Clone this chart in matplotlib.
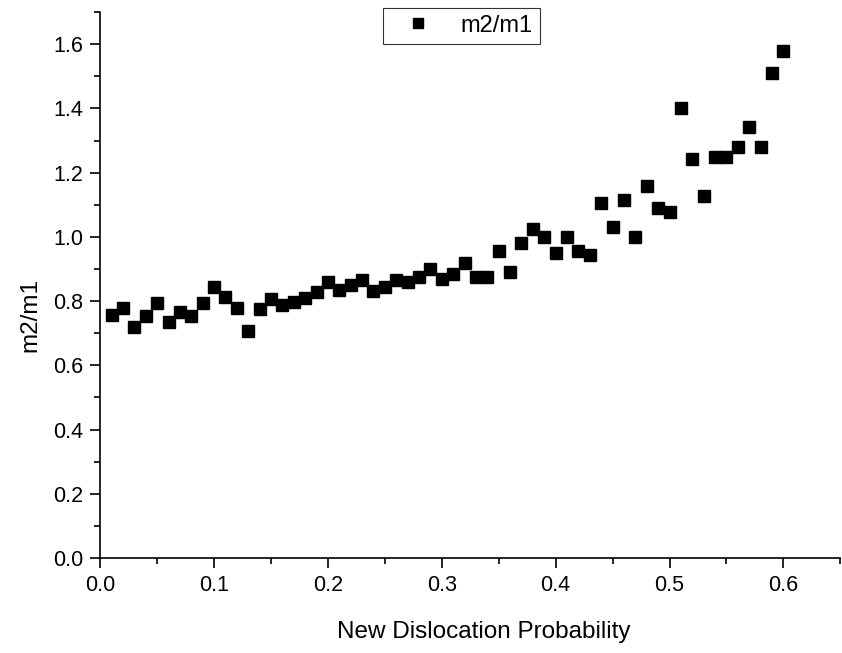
import matplotlib
matplotlib.use("Agg")
import matplotlib.pyplot as plt
from matplotlib.ticker import MultipleLocator

plt.rcParams['font.family'] = ['Liberation Sans', 'DejaVu Sans']

# new dislocation probability, 0.01 .. 0.60
prob = [round(0.01 * i, 2) for i in range(1, 61)]
ratio = [0.758, 0.777, 0.720, 0.755, 0.795, 0.736, 0.767, 0.755, 0.795, 0.845,
         0.814, 0.777, 0.708, 0.774, 0.808, 0.789, 0.798, 0.811, 0.827, 0.861,
         0.833, 0.850, 0.865, 0.830, 0.845, 0.865, 0.860, 0.875, 0.900, 0.870,
         0.885, 0.920, 0.875, 0.875, 0.955, 0.890, 0.980, 1.025, 1.000, 0.950,
         1.000, 0.955, 0.945, 1.104, 1.030, 1.114, 1.000, 1.157, 1.089, 1.076,
         1.400, 1.241, 1.126, 1.248, 1.248, 1.279, 1.341, 1.279, 1.510, 1.580]

fig = plt.figure(figsize=(8.42, 6.53), dpi=100)
ax = fig.add_axes([0.119, 0.1455, 0.879, 0.836])

ax.plot(prob, ratio, linestyle='none', marker='s', markersize=8.5,
        color='black', label='m2/m1')

ax.set_xlim(0, 0.65)
ax.set_ylim(0, 1.7)
ax.xaxis.set_major_locator(MultipleLocator(0.1))
ax.xaxis.set_minor_locator(MultipleLocator(0.05))
ax.yaxis.set_major_locator(MultipleLocator(0.2))
ax.yaxis.set_minor_locator(MultipleLocator(0.1))
ax.xaxis.set_major_formatter(plt.FormatStrFormatter('%.1f'))
ax.yaxis.set_major_formatter(plt.FormatStrFormatter('%.1f'))

for s in ['top', 'right']:
    ax.spines[s].set_visible(False)
for s in ['left', 'bottom']:
    ax.spines[s].set_linewidth(1.2)

ax.tick_params(which='major', direction='out', length=7, width=1.2,
               labelsize=15.5, pad=5)
ax.tick_params(which='minor', direction='out', length=4, width=1.2)

ax.set_xlabel('New Dislocation Probability', fontsize=17.5)
ax.set_ylabel('m2/m1', fontsize=17.5)
ax.xaxis.set_label_coords(0.518, -0.115)
ax.yaxis.set_label_coords(-0.08, 0.445)

leg = ax.legend(loc='upper center', bbox_to_anchor=(0.488, 1.03), fontsize=17,
                frameon=True, fancybox=False, edgecolor='black', borderpad=0.3,
                handlelength=2.4, handletextpad=0.6, markerscale=0.9)
leg.get_frame().set_linewidth(0.8)

fig.savefig('out.png', dpi=100)
